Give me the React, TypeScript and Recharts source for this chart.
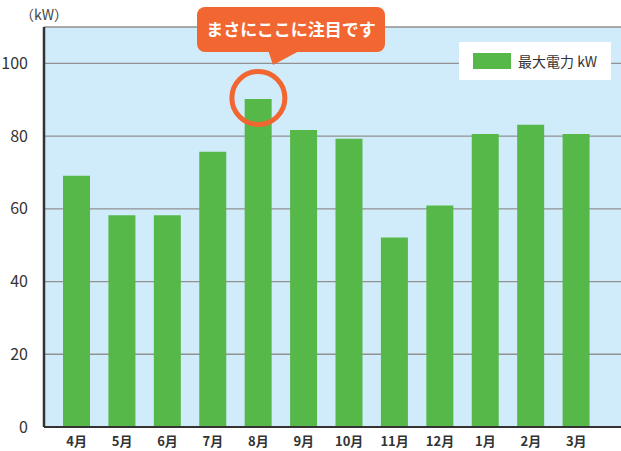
import { BarChart, Bar, XAxis, YAxis, CartesianGrid, ReferenceDot } from "recharts";

const MONTHS = ["4月", "5月", "6月", "7月", "8月", "9月", "10月", "11月", "12月", "1月", "2月", "3月"];
const PEAK_KW = [69.1, 58.2, 58.2, 75.7, 90.2, 81.7, 79.3, 52.1, 60.9, 80.6, 83.1, 80.6];
const Y_TICKS = [0, 20, 40, 60, 80, 100];
const SERIES_NAME = "最大電力 kW";
const HIGHLIGHT = { month: "8月", value: 90.5, text: "まさにここに注目です" };

const GREEN = "#56b849";
const ORANGE = "#f26631";
const FONT = "'Noto Sans CJK JP', 'Noto Sans', sans-serif";

const data = MONTHS.map((m, i) => ({ month: m, kw: PEAK_KW[i] }));

// legend is drawn outside recharts so it doesn't eat plot height
function LegendBox() {
  return (
    <div
      style={{
        position: "absolute",
        top: 42,
        left: 459,
        background: "#fff",
        width: 152,
        height: 38,
        display: "flex",
        alignItems: "center",
        boxSizing: "border-box",
        paddingLeft: 14,
        fontFamily: FONT,
        fontSize: 14,
        color: "#333",
      }}
    >
      <span style={{ display: "inline-block", width: 38, height: 16, background: GREEN, marginRight: 7 }} />
      {SERIES_NAME}
    </div>
  );
}

export default function App() {
  return (
    <div style={{ position: "relative", width: 621, height: 451, fontFamily: FONT }}>
      <style>{`body{margin:0}`}</style>
      <BarChart width={621} height={451} data={data} margin={{ top: 27, right: 0, bottom: 0, left: 0 }}>
        <CartesianGrid vertical={false} fill="#d0ecfa" stroke="#919191" strokeWidth={1.3} fillOpacity={1} />
        <XAxis
          dataKey="month"
          height={24}
          padding={{ left: 10, right: 22 }}
          tickLine={false}
          axisLine={{ stroke: "#333", strokeWidth: 2 }}
          tick={{ fill: "#333", fontSize: 13, fontWeight: 700, fontFamily: FONT }}
          tickMargin={4}
          interval={0}
        />
        <YAxis
          width={44}
          domain={[0, 110]}
          ticks={Y_TICKS}
          tickLine={false}
          axisLine={{ stroke: "#333", strokeWidth: 2.5 }}
          tick={{ fill: "#333", fontSize: 16, fontFamily: FONT }}
          tickMargin={10}
        />
        <Bar dataKey="kw" name={SERIES_NAME} fill={GREEN} barSize={27} isAnimationActive={false} />
        <ReferenceDot
          x={HIGHLIGHT.month}
          y={HIGHLIGHT.value}
          r={26.5}
          fill="none"
          stroke={ORANGE}
          strokeWidth={5}
        />
      </BarChart>
      <LegendBox />
      <div
        style={{
          position: "absolute",
          left: 20,
          top: 4,
          fontSize: 14,
          color: "#444",
          fontFamily: FONT,
        }}
      >
        （kW）
      </div>
      <svg width={621} height={80} style={{ position: "absolute", left: 0, top: 0, pointerEvents: "none" }}>
        <rect x={197} y={7} width={188} height={45} rx={8} fill={ORANGE} />
        <polygon points="268,50 301,50 273,65" fill={ORANGE} />
        <text
          x={291}
          y={36}
          textAnchor="middle"
          fill="#fff"
          fontSize={17}
          fontWeight={700}
          fontFamily={FONT}
        >
          {HIGHLIGHT.text}
        </text>
      </svg>
    </div>
  );
}
